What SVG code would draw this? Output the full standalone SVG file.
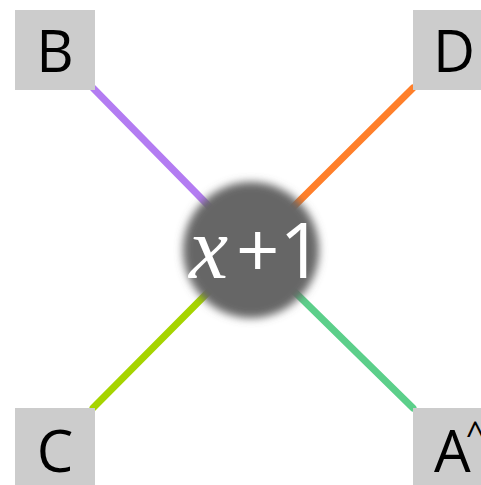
<svg xmlns="http://www.w3.org/2000/svg" width="481" height="485" viewBox="0 0 481 485">
<defs>
<style>
.box{fill:#cccccc}
.lbl{font-family:"Open Sans","DejaVu Sans",sans-serif;font-size:58px;fill:#000;text-anchor:middle}
.edge{stroke-width:7;stroke-linecap:round;fill:none}
</style>
<filter id="blur" x="-20%" y="-20%" width="140%" height="140%"><feGaussianBlur stdDeviation="4"/></filter>
</defs>
<g id="edges">
<line class="edge" x1="93" y1="88" x2="251" y2="249" stroke="#b37cf2"/>
<line class="edge" x1="413" y1="88" x2="251" y2="249" stroke="#ff7f2a"/>
<line class="edge" x1="93" y1="408" x2="251" y2="249" stroke="#a6d400"/>
<line class="edge" x1="413" y1="408" x2="251" y2="249" stroke="#5ccf8a"/>
</g>
<g id="nodeB"><rect class="box" x="15" y="10" width="80" height="80"/><text class="lbl" x="55" y="72">B</text></g>
<g id="nodeD"><rect class="box" x="413" y="10" width="80" height="80"/><text class="lbl" x="454" y="72">D</text></g>
<g id="nodeC"><rect class="box" x="15" y="408" width="80" height="80"/><text class="lbl" x="55" y="472">C</text></g>
<g id="nodeA"><rect class="box" x="413" y="408" width="80" height="80"/><text class="lbl" x="453" y="472" style="text-anchor:start" dx="-19">A<tspan dx="-5" dy="-26" style="font-size:34px">^</tspan></text></g>
<g id="center">
<circle cx="251" cy="250" r="68" fill="#666666" filter="url(#blur)"/>
<text y="278" fill="#ffffff"><tspan x="189" font-family="'Liberation Serif',serif" font-style="italic" font-size="88">x</tspan><tspan x="236" font-family="'Open Sans','DejaVu Sans',sans-serif" font-size="76">+1</tspan></text>
</g>
</svg>
